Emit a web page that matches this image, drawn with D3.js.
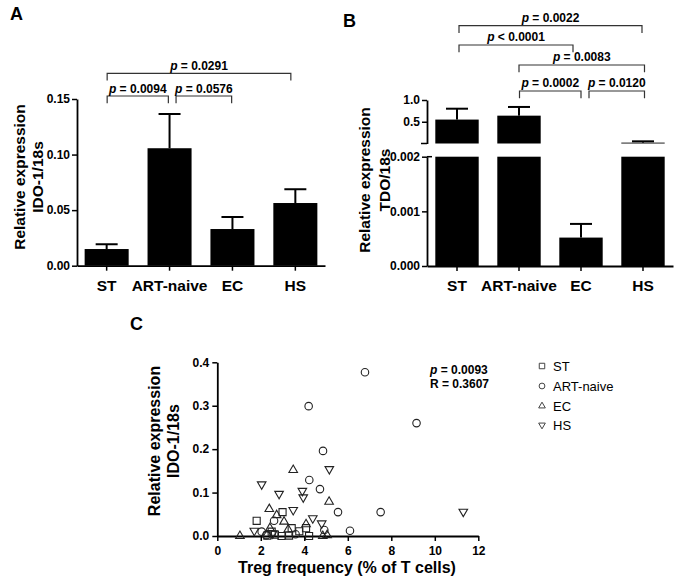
<!DOCTYPE html>
<html><head><meta charset="utf-8">
<script src="https://cdn.jsdelivr.net/npm/d3@7"></script>
<style>
body{margin:0;background:#fff}
svg{display:block}
text{font-family:"Liberation Sans",Arial,Helvetica,sans-serif;fill:#000}
</style>
</head><body>
<svg id="chart" width="683" height="583"></svg>
<script>
// ---------- data ----------
const groups = ["ST", "ART-naive", "EC", "HS"];
const idoMean = [0.0150, 0.1057, 0.0330, 0.0564];
const idoErr  = [0.0043, 0.0308, 0.0108, 0.0124];
const tdoMean = [0.55, 0.64, 0.00052, 0.02];
const tdoErr  = [0.25, 0.20, 0.00025, 0.03];
const idoTicks = [0, 0.05, 0.10, 0.15];
const tdoLowTicks = [0, 0.001, 0.002];
const tdoHighTicks = [0.5, 1.0];
const idoPairs = [[0, 3], [0, 1], [1, 2]];
const idoPvals = ["= 0.0291", "= 0.0094", "= 0.0576"];
const tdoPairs = [[0, 3], [0, 2], [1, 3], [1, 2], [2, 3]];
const tdoPvals = ["= 0.0022", "< 0.0001", "= 0.0083", "= 0.0002", "= 0.0120"];
const scatterXTicks = [0, 2, 4, 6, 8, 10, 12];
const scatterYTicks = [0, 0.1, 0.2, 0.3, 0.4];
const stX  = [3.00, 1.81, 3.42, 4.08, 3.77, 2.50, 2.30, 2.65, 2.95, 3.30, 4.22];
const stY  = [0.055, 0.035, 0.018, 0.018, 0.011, 0.010, 0.001, 0.003, 0.000, 0.001, 0.000];
const artX = [6.79, 4.20, 9.16, 4.86, 4.23, 4.72, 5.55, 7.51, 6.10, 2.61, 2.04, 4.92, 2.25, 3.60];
const artY = [0.377, 0.299, 0.260, 0.196, 0.129, 0.108, 0.055, 0.055, 0.012, 0.035, 0.010, 0.014, 0.002, 0.004];
const ecX  = [3.49, 5.14, 2.39, 2.73, 3.07, 1.04, 2.42, 4.08, 4.85, 5.05, 3.26];
const ecY  = [0.152, 0.079, 0.062, 0.048, 0.033, 0.000, 0.018, 0.027, 0.000, 0.002, 0.015];
const hsX  = [2.04, 2.84, 3.91, 3.95, 5.15, 3.49, 4.39, 4.80, 11.31, 1.70, 2.55];
const hsY  = [0.119, 0.097, 0.104, 0.089, 0.154, 0.060, 0.041, 0.029, 0.056, 0.012, 0.006];
const corrP = "= 0.0093";
const corrR = "R = 0.3607";

// ---------- helpers ----------
const svg = d3.select("#chart");
const FONT_T = 15.5;

function styleAxis(g, fs) {
  g.select(".domain").attr("stroke", "#000").attr("stroke-width", 1.8);
  g.selectAll(".tick line").attr("stroke", "#000").attr("stroke-width", 1.5);
  g.selectAll(".tick text").attr("fill", "#000")
    .style("font-family", '"Liberation Sans",Arial,sans-serif')
    .style("font-weight", "bold").style("font-size", fs + "px");
}
function pText(sel, x, y, val, fs) {
  const t = sel.append("text").attr("x", x).attr("y", y).attr("text-anchor", "middle")
    .style("font-weight", "bold").style("font-size", fs + "px");
  t.append("tspan").style("font-style", "italic").text("p");
  t.append("tspan").text(" " + val);
  return t;
}
function bracket(sel, x1, x2, y, leg) {
  sel.append("path")
    .attr("d", `M${x1},${y + leg}V${y}H${x2}V${y + leg}`)
    .attr("fill", "none").attr("stroke", "#333").attr("stroke-width", 1.2);
}
function yTitle(sel, lines, xs, cy, fs) {
  lines.forEach((l, i) => {
    sel.append("text").attr("transform", `translate(${xs[i]},${cy}) rotate(-90)`)
      .attr("text-anchor", "middle").style("font-weight", "bold").style("font-size", fs + "px").text(l);
  });
}
function errBar(sel, cx, yTop, yBase) {
  sel.append("line").attr("x1", cx).attr("x2", cx).attr("y1", yBase).attr("y2", yTop)
    .attr("stroke", "#000").attr("stroke-width", 2);
  sel.append("line").attr("x1", cx - 11).attr("x2", cx + 11).attr("y1", yTop).attr("y2", yTop)
    .attr("stroke", "#000").attr("stroke-width", 2);
}

// ---------- Panel A ----------
{
  const g = svg.append("g");
  const x = d3.scaleBand().domain(groups).range([77, 325]).paddingInner(0.3).paddingOuter(0.1215);
  const y = d3.scaleLinear().domain([0, 0.15]).range([265.7, 99]);
  groups.forEach((k, i) => {
    const cx = x(k) + x.bandwidth() / 2;
    errBar(g, cx, y(idoMean[i] + idoErr[i]), y(idoMean[i]));
  });
  g.selectAll("rect.bar").data(groups).join("rect").attr("class", "bar")
    .attr("x", d => x(d)).attr("width", x.bandwidth())
    .attr("y", (d, i) => y(idoMean[i])).attr("height", (d, i) => y(0) - y(idoMean[i]))
    .attr("fill", "#000");
  const ya = g.append("g").attr("transform", "translate(77,0)")
    .call(d3.axisLeft(y).tickValues(idoTicks).tickFormat(d3.format(".2f")).tickSize(5).tickSizeOuter(0).tickPadding(2));
  styleAxis(ya, 12);
  const xa = g.append("g").attr("transform", "translate(0,265.7)")
    .call(d3.axisBottom(x).tickSize(5).tickSizeOuter(0).tickPadding(9));
  styleAxis(xa, FONT_T);
  yTitle(g, ["Relative expression", "IDO-1/18s"], [25, 42.5], 177, FONT_T);
  g.append("text").attr("x", 10).attr("y", 20).style("font-weight", "bold").style("font-size", "18px").text("A");
  const cx = k => x(groups[k]) + x.bandwidth() / 2;
  const levels = [73.3, 96, 96];
  const offs = [[0.5, -4.5], [0.5, -1.2], [6.5, -0.8]];
  idoPairs.forEach((p, i) => {
    const x1 = cx(p[0]) + offs[i][0], x2 = cx(p[1]) + offs[i][1];
    bracket(g, x1, x2, levels[i], 7.3);
    pText(g, (x1 + x2) / 2, levels[i] - 3.5, idoPvals[i], 12);
  });
}

// ---------- Panel B ----------
{
  const g = svg.append("g");
  const x = d3.scaleBand().domain(groups).range([427, 673]).paddingInner(0.3).paddingOuter(0.134);
  const yLo = d3.scaleLinear().domain([0, 0.002]).range([266, 156.7]);
  const yHi = d3.scaleLinear().domain([0, 1]).range([143.5, 100]);
  groups.forEach((k, i) => {
    const cx = x(k) + x.bandwidth() / 2;
    const v = tdoMean[i], e = tdoErr[i];
    if (v > 0.002) {
      errBar(g, cx, yHi(v + e), yHi(v));
      g.append("rect").attr("x", x(k)).attr("width", x.bandwidth())
        .attr("y", yHi(v)).attr("height", yHi(0) - yHi(v)).attr("fill", "#000");
      g.append("rect").attr("x", x(k)).attr("width", x.bandwidth())
        .attr("y", yLo(0.002)).attr("height", yLo(0) - yLo(0.002)).attr("fill", "#000");
    } else {
      errBar(g, cx, yLo(v + e), yLo(v));
      g.append("rect").attr("x", x(k)).attr("width", x.bandwidth())
        .attr("y", yLo(v)).attr("height", yLo(0) - yLo(v)).attr("fill", "#000");
    }
  });
  const yaLo = g.append("g").attr("transform", "translate(427,0)")
    .call(d3.axisLeft(yLo).tickValues(tdoLowTicks).tickFormat(d3.format(".3f")).tickSize(5).tickSizeOuter(0).tickPadding(2));
  styleAxis(yaLo, 12);
  const yaHi = g.append("g").attr("transform", "translate(427,0)")
    .call(d3.axisLeft(yHi).tickValues(tdoHighTicks).tickFormat(d3.format(".1f")).tickSize(5).tickSizeOuter(0).tickPadding(2));
  styleAxis(yaHi, 12);
  // break marks
  g.append("line").attr("x1", 421).attr("x2", 427).attr("y1", yHi(0)).attr("y2", yHi(0)).attr("stroke", "#000").attr("stroke-width", 1.5);
  g.append("line").attr("x1", 427).attr("x2", 432).attr("y1", yLo(0.002)).attr("y2", yLo(0.002)).attr("stroke", "#000").attr("stroke-width", 1.5);
  const xa = g.append("g").attr("transform", "translate(0,266)")
    .call(d3.axisBottom(x).tickSize(5).tickSizeOuter(0).tickPadding(9));
  styleAxis(xa, FONT_T);
  yTitle(g, ["Relative expression", "TDO/18s"], [370, 390], 180, FONT_T);
  g.append("text").attr("x", 343).attr("y", 27).style("font-weight", "bold").style("font-size", "18px").text("B");
  const cx = k => x(groups[k]) + x.bandwidth() / 2;
  const levels = [25.7, 45, 65, 91, 91];
  const offs = [[2, -1], [2, -8], [0, 1.5], [0.5, 0], [8, 1.5]];
  tdoPairs.forEach((p, i) => {
    const x1 = cx(p[0]) + offs[i][0], x2 = cx(p[1]) + offs[i][1];
    bracket(g, x1, x2, levels[i], 7.2);
    pText(g, (x1 + x2) / 2, levels[i] - 4, tdoPvals[i], 12);
  });
}

// ---------- Panel C ----------
{
  const g = svg.append("g");
  const x = d3.scaleLinear().domain([0, 12]).range([217.3, 478.3]);
  const y = d3.scaleLinear().domain([0, 0.4]).range([536, 362.3]);
  const xa = g.append("g").attr("transform", "translate(0,536)")
    .call(d3.axisBottom(x).tickValues(scatterXTicks).tickFormat(d3.format("d")).tickSize(5).tickSizeOuter(0).tickPadding(5));
  styleAxis(xa, 12);
  const ya = g.append("g").attr("transform", "translate(217.3,0)")
    .call(d3.axisLeft(y).tickValues(scatterYTicks).tickFormat(d3.format(".1f")).tickSize(5).tickSizeOuter(0).tickPadding(3));
  styleAxis(ya, 12);
  const series = [
    {xs: stX, ys: stY, type: d3.symbolSquare, size: 50, rot: 0},
    {xs: artX, ys: artY, type: d3.symbolCircle, size: 44, rot: 0},
    {xs: ecX, ys: ecY, type: d3.symbolTriangle, size: 32, rot: 0},
    {xs: hsX, ys: hsY, type: d3.symbolTriangle, size: 32, rot: 180}
  ];
  series.forEach(s => {
    const sym = d3.symbol().type(s.type).size(s.size);
    g.append("g").selectAll("path").data(s.xs.map((v, i) => [v, s.ys[i]])).join("path")
      .attr("d", sym)
      .attr("transform", d => `translate(${x(d[0])},${y(d[1])}) rotate(${s.rot})`)
      .attr("fill", "none").attr("stroke", "#222").attr("stroke-width", 1.1);
  });
  g.append("text").attr("x", 347).attr("y", 573).attr("text-anchor", "middle")
    .style("font-weight", "bold").style("font-size", "16px").text("Treg frequency (% of T cells)");
  yTitle(g, ["Relative expression", "IDO-1/18s"], [160, 179], 441, 16);
  const pt = g.append("text").attr("x", 430).attr("y", 374).style("font-weight", "bold").style("font-size", "12px");
  pt.append("tspan").style("font-style", "italic").text("p");
  pt.append("tspan").text(" " + corrP);
  g.append("text").attr("x", 430).attr("y", 388).style("font-weight", "bold").style("font-size", "12px").text(corrR);
  g.append("text").attr("x", 130).attr("y", 330).style("font-weight", "bold").style("font-size", "18px").text("C");
  // legend
  const legY = [366, 386, 406, 425];
  series.forEach((s, i) => {
    const sym = d3.symbol().type(s.type).size(s.size * 0.6);
    g.append("path").attr("d", sym).attr("transform", `translate(542,${legY[i]}) rotate(${s.rot})`)
      .attr("fill", "none").attr("stroke", "#444").attr("stroke-width", 1);
    g.append("text").attr("x", 553).attr("y", legY[i] + 4.5).style("font-size", "13px").text(groups[i]);
  });
}
</script>
</body></html>
